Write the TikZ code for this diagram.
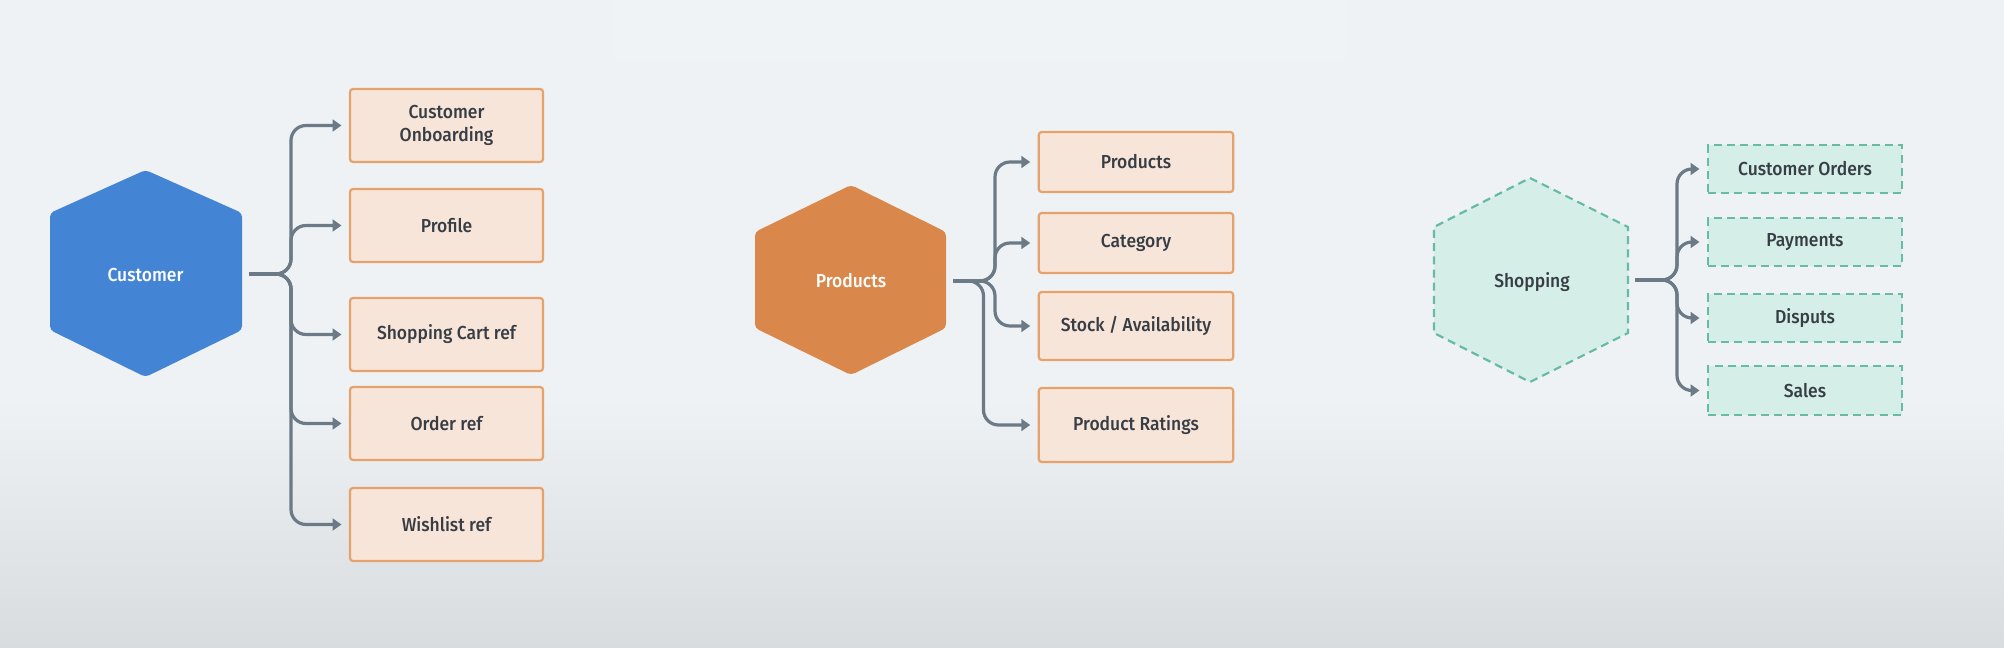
\documentclass[tikz,border=0pt]{standalone}
\usepackage{fontspec}
\setmainfont{Fira Sans}[UprightFont={* Medium},FakeStretch=0.93]
\usetikzlibrary{arrows.meta,calc}
\definecolor{bgtop}{HTML}{EEF2F5}
\definecolor{bgbot}{HTML}{D9DCDF}
\definecolor{custblue}{HTML}{4384D4}
\definecolor{prodorange}{HTML}{D9874A}
\definecolor{peach}{HTML}{F8E5D9}
\definecolor{peachline}{HTML}{E6A26C}
\definecolor{mint}{HTML}{D5EEE8}
\definecolor{mintline}{HTML}{67BBA4}
\definecolor{connc}{HTML}{6C7A88}
\definecolor{txt}{HTML}{373D44}
\begin{document}
\begin{tikzpicture}[x=0.5pt,y=-0.5pt,
  lbl/.style={font=\fontsize{9.4}{11.2}\selectfont, text=txt, align=center},
  pbox/.style={lbl, draw=peachline, fill=peach, line width=1.1pt, rounded corners=1.5pt, inner sep=0pt},
  mdash/.style={dash pattern=on 4pt off 2.6pt},
  mbox/.style={lbl, draw=mintline, fill=mint, line width=1.1pt, mdash, inner sep=0pt},
  hexlbl/.style={font=\fontsize{9.4}{11.2}\selectfont, inner sep=0pt},
  conn/.style={draw=connc, line width=1.6pt, rounded corners=7.5pt, shorten >=3.7pt, -{Triangle[length=4.5pt,width=6pt]}}
]
% background
\useasboundingbox (0,0) rectangle (2004,648);
\fill[bgtop] (0,0) rectangle (2004,648);
\shade[top color=bgtop, bottom color=bgbot] (0,400) rectangle (2004,648);
\fill[white, opacity=0.12] (615,0) rectangle (1345,62);

% ===== Customer =====
\fill[custblue, rounded corners=2pt] (145.5,170) -- (242,213) -- (242,330) -- (145.5,377) -- (50,330) -- (50,213) -- cycle;
\node[hexlbl, text=white] (cust) at (145.5,275) {Customer};
\coordinate (custout) at (249,274);
\coordinate (custtrunk) at (291,274);

\node[pbox, minimum width=96.5pt, minimum height=36.5pt] (c1) at (446.5,125.5) {Customer\\Onboarding};
\node[pbox, minimum width=96.5pt, minimum height=36.5pt] (c2) at (446.5,225.5) {Profile};
\node[pbox, minimum width=96.5pt, minimum height=36.5pt] (c3) at (446.5,334.5) {Shopping Cart ref};
\node[pbox, minimum width=96.5pt, minimum height=36.5pt] (c4) at (446.5,423.5) {Order ref};
\node[pbox, minimum width=96.5pt, minimum height=36.5pt] (c5) at (446.5,524.5) {Wishlist ref};

\foreach \b in {c1,c2,c3,c4,c5}{
  \draw[conn] (custout) -| (custtrunk |- \b.west) -- (\b.west);
}

% ===== Products =====
\fill[prodorange, rounded corners=2pt] (851,185) -- (946,232) -- (946,328) -- (851,375) -- (755,328) -- (755,232) -- cycle;
\node[hexlbl, text=white] (prod) at (851,281) {Products};
\coordinate (prodout) at (953,281);
\coordinate (prodtrunk) at (995,281);
\coordinate (prodtrunkb) at (983.5,281);

\node[pbox, minimum width=97.25pt, minimum height=30pt] (p1) at (1136,162) {Products};
\node[pbox, minimum width=97.25pt, minimum height=30pt] (p2) at (1136,243) {Category};
\node[pbox, minimum width=97.25pt, minimum height=34pt] (p3) at (1136,326) {Stock / Availability};
\node[pbox, minimum width=97.25pt, minimum height=37pt] (p4) at (1136,425) {Product Ratings};

\foreach \b in {p1,p2,p3}{
  \draw[conn] (prodout) -| (prodtrunk |- \b.west) -- (\b.west);
}
\draw[conn] (prodout) -| (prodtrunkb |- p4.west) -- (p4.west);

% ===== Shopping =====
\filldraw[fill=mint, draw=mintline, line width=1.1pt, mdash] (1530,178) -- (1628,227) -- (1628,333) -- (1530,382) -- (1434,333) -- (1434,227) -- cycle;
\node[hexlbl, text=txt] (shop) at (1532,282) {Shopping};
\coordinate (shopout) at (1635,280);
\coordinate (shoptrunk) at (1677,280);

\node[mbox, minimum width=97pt, minimum height=24pt] (s1) at (1805,169) {Customer Orders};
\node[mbox, minimum width=97pt, minimum height=24pt] (s2) at (1805,242) {Payments};
\node[mbox, minimum width=97pt, minimum height=24pt] (s3) at (1805,318) {Disputs};
\node[mbox, minimum width=97pt, minimum height=24.5pt] (s4) at (1805,390.5) {Sales};

\foreach \b in {s1,s2,s3,s4}{
  \draw[conn] (shopout) -| (shoptrunk |- \b.west) -- (\b.west);
}
\end{tikzpicture}
\end{document}
